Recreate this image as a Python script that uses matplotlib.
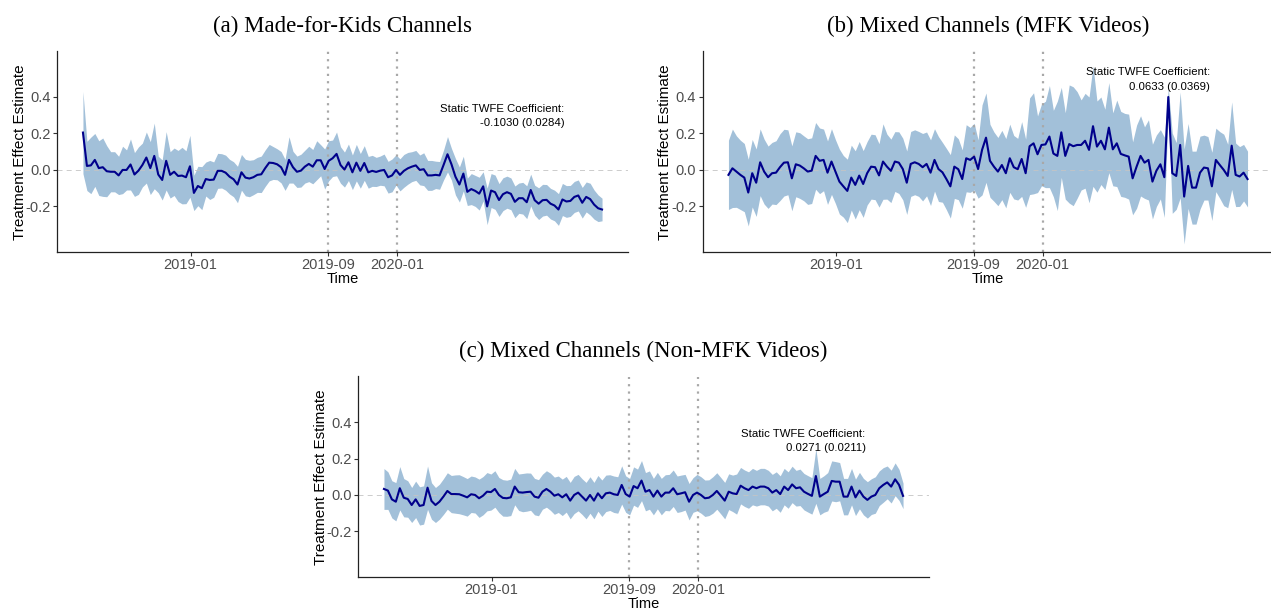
import numpy as np
import pandas as pd
import matplotlib
matplotlib.use('Agg')
import matplotlib.pyplot as plt

# weekly event-study estimates
weeks = pd.date_range('2018-06-25', periods=132, freq='7D')

est_a = [0.205, 0.022, 0.025, 0.055, 0.010, 0.015, -0.007, -0.010, -0.010, -0.030,
         0.000, 0.000, 0.030, -0.025, -0.004, 0.027, 0.068, 0.010, 0.077, -0.025,
         -0.055, 0.050, -0.027, -0.010, -0.033, -0.031, -0.040, 0.020, -0.126, -0.088,
         -0.100, -0.050, -0.055, -0.053, -0.005, -0.005, -0.015, -0.037, -0.051, -0.080,
         -0.013, -0.042, -0.047, -0.040, -0.027, -0.024, 0.010, 0.040, 0.038, 0.031,
         0.015, -0.027, 0.055, 0.015, -0.010, -0.004, 0.018, 0.033, 0.018, 0.053,
         0.053, 0.005, 0.050, 0.064, 0.088, 0.027, 0.002, 0.042, -0.013, 0.040,
         -0.005, 0.038, -0.013, -0.005, -0.011, -0.004, 0.000, -0.040, -0.030, 0.000,
         -0.027, -0.005, 0.009, 0.018, 0.025, 0.000, 0.004, -0.030, -0.030, -0.027,
         -0.030, 0.027, 0.086, 0.031, -0.037, -0.080, -0.020, -0.120, -0.105, -0.115,
         -0.130, -0.090, -0.200, -0.113, -0.122, -0.165, -0.133, -0.122, -0.131, -0.175,
         -0.155, -0.155, -0.177, -0.110, -0.166, -0.185, -0.166, -0.164, -0.185, -0.195,
         -0.217, -0.162, -0.173, -0.170, -0.148, -0.140, -0.180, -0.148, -0.160, -0.190,
         -0.210, -0.217]
hw_a = [0.225, 0.135, 0.155, 0.145, 0.150, 0.160, 0.140, 0.110, 0.110, 0.105,
        0.130, 0.110, 0.140, 0.120, 0.130, 0.120, 0.140, 0.145, 0.180, 0.100,
        0.110, 0.160, 0.127, 0.130, 0.140, 0.155, 0.145, 0.170, 0.097, 0.108,
        0.118, 0.093, 0.107, 0.097, 0.096, 0.094, 0.096, 0.095, 0.096, 0.100,
        0.098, 0.100, 0.100, 0.096, 0.096, 0.100, 0.100, 0.100, 0.090, 0.085,
        0.086, 0.085, 0.127, 0.087, 0.086, 0.090, 0.090, 0.097, 0.094, 0.107,
        0.085, 0.110, 0.110, 0.100, 0.120, 0.100, 0.096, 0.100, 0.095, 0.100,
        0.095, 0.095, 0.087, 0.085, 0.080, 0.080, 0.087, 0.087, 0.090, 0.083,
        0.088, 0.090, 0.087, 0.082, 0.082, 0.082, 0.090, 0.082, 0.082, 0.075,
        0.076, 0.082, 0.097, 0.087, 0.100, 0.096, 0.095, 0.075, 0.085, 0.085,
        0.090, 0.080, 0.100, 0.093, 0.094, 0.090, 0.090, 0.088, 0.087, 0.087,
        0.083, 0.087, 0.090, 0.087, 0.082, 0.087, 0.087, 0.084, 0.084, 0.084,
        0.087, 0.088, 0.087, 0.085, 0.085, 0.085, 0.084, 0.082, 0.087, 0.080,
        0.073, 0.062]

est_b = [-0.027, 0.009, -0.009, -0.027, -0.042, -0.124, -0.018, -0.070, 0.042, -0.009,
         -0.040, -0.018, -0.015, 0.015, 0.040, 0.042, -0.046, 0.031, 0.024, 0.009,
         -0.009, -0.004, 0.077, 0.050, 0.055, -0.015, 0.046, -0.009, -0.064, -0.090,
         -0.115, -0.042, -0.082, -0.031, -0.077, -0.018, 0.018, 0.015, -0.030, 0.046,
         0.018, -0.005, 0.046, 0.040, 0.005, -0.070, 0.033, 0.042, 0.033, 0.015,
         0.033, -0.015, 0.055, 0.005, -0.013, -0.050, -0.090, 0.018, 0.004, -0.050,
         0.064, 0.055, 0.073, 0.005, 0.110, 0.177, 0.050, 0.018, -0.009, 0.027,
         -0.018, 0.064, 0.015, 0.004, 0.060, -0.018, 0.130, 0.146, 0.086, 0.137,
         0.140, 0.183, 0.090, 0.077, 0.206, 0.077, 0.142, 0.130, 0.137, 0.137,
         0.160, 0.110, 0.240, 0.128, 0.160, 0.113, 0.232, 0.113, 0.146, 0.088,
         0.080, 0.073, -0.046, 0.018, 0.077, 0.040, 0.055, -0.064, -0.004, 0.031,
         -0.040, 0.400, -0.018, -0.033, 0.137, -0.146, 0.022, -0.097, -0.097, -0.015,
         0.013, 0.009, -0.090, 0.055, 0.027, 0.000, -0.033, 0.133, -0.027, -0.036,
         -0.015, -0.050]
hw_b = [0.190, 0.215, 0.196, 0.190, 0.187, 0.183, 0.185, 0.185, 0.183, 0.178,
        0.171, 0.169, 0.175, 0.183, 0.183, 0.178, 0.178, 0.178, 0.180, 0.178,
        0.180, 0.180, 0.183, 0.180, 0.169, 0.174, 0.180, 0.175, 0.178, 0.169,
        0.174, 0.178, 0.187, 0.187, 0.183, 0.174, 0.178, 0.178, 0.174, 0.207,
        0.178, 0.174, 0.164, 0.169, 0.169, 0.174, 0.178, 0.178, 0.178, 0.185,
        0.175, 0.180, 0.171, 0.178, 0.164, 0.168, 0.174, 0.174, 0.167, 0.160,
        0.184, 0.178, 0.183, 0.160, 0.247, 0.245, 0.200, 0.190, 0.187, 0.190,
        0.190, 0.187, 0.174, 0.169, 0.205, 0.187, 0.265, 0.277, 0.210, 0.224,
        0.237, 0.280, 0.237, 0.300, 0.247, 0.237, 0.324, 0.326, 0.292, 0.247,
        0.260, 0.290, 0.330, 0.250, 0.240, 0.220, 0.247, 0.200, 0.237, 0.233,
        0.230, 0.233, 0.200, 0.228, 0.220, 0.196, 0.220, 0.205, 0.196, 0.190,
        0.220, 0.050, 0.220, 0.183, 0.290, 0.260, 0.233, 0.200, 0.200, 0.200,
        0.178, 0.174, 0.187, 0.174, 0.183, 0.196, 0.174, 0.240, 0.174, 0.164,
        0.155, 0.153]

est_c = [0.033, 0.024, -0.024, -0.037, 0.037, -0.015, -0.022, -0.055, -0.024, -0.060,
         -0.055, 0.040, -0.033, -0.055, -0.037, -0.009, 0.022, 0.005, 0.005, 0.004,
         -0.004, -0.013, 0.004, 0.000, -0.018, -0.004, 0.018, 0.016, 0.033, 0.000,
         -0.016, -0.018, -0.013, 0.046, 0.015, 0.013, 0.016, 0.018, -0.009, -0.015,
         0.018, 0.033, 0.018, -0.004, 0.004, -0.013, 0.004, -0.031, 0.000, 0.013,
         -0.009, -0.031, 0.000, -0.031, 0.009, -0.018, 0.009, 0.013, 0.004, 0.000,
         0.055, 0.005, -0.009, 0.049, 0.037, 0.079, 0.018, 0.027, -0.009, 0.024,
         -0.009, 0.013, 0.013, 0.037, 0.004, 0.009, 0.015, -0.037, 0.000, 0.013,
         0.000, -0.018, -0.015, 0.000, 0.022, -0.004, -0.031, 0.018, 0.009, 0.005,
         0.051, 0.037, 0.027, 0.046, 0.037, 0.046, 0.046, 0.037, 0.013, 0.027,
         0.005, 0.046, 0.027, 0.058, 0.037, 0.042, 0.018, 0.006, -0.005, 0.104,
         -0.009, 0.005, 0.018, 0.077, 0.073, 0.073, -0.009, -0.009, 0.046, -0.013,
         0.024, -0.009, -0.027, -0.009, 0.000, 0.037, 0.055, 0.069, 0.046, 0.086,
         0.055, -0.005]
hw_c = [0.112, 0.103, 0.102, 0.105, 0.119, 0.105, 0.100, 0.096, 0.100, 0.105,
        0.105, 0.119, 0.100, 0.096, 0.096, 0.098, 0.100, 0.102, 0.105, 0.107,
        0.105, 0.103, 0.100, 0.099, 0.105, 0.105, 0.105, 0.099, 0.100, 0.096,
        0.100, 0.099, 0.100, 0.100, 0.100, 0.105, 0.105, 0.102, 0.100, 0.099,
        0.096, 0.100, 0.102, 0.102, 0.100, 0.100, 0.098, 0.100, 0.102, 0.100,
        0.098, 0.100, 0.100, 0.100, 0.098, 0.100, 0.100, 0.098, 0.100, 0.100,
        0.105, 0.100, 0.100, 0.105, 0.105, 0.110, 0.105, 0.105, 0.100, 0.100,
        0.100, 0.098, 0.100, 0.100, 0.100, 0.100, 0.098, 0.100, 0.095, 0.100,
        0.100, 0.100, 0.098, 0.100, 0.100, 0.100, 0.100, 0.098, 0.100, 0.110,
        0.100, 0.100, 0.100, 0.100, 0.098, 0.100, 0.100, 0.098, 0.100, 0.100,
        0.100, 0.100, 0.100, 0.100, 0.098, 0.100, 0.100, 0.100, 0.100, 0.150,
        0.100, 0.100, 0.105, 0.110, 0.110, 0.105, 0.100, 0.100, 0.100, 0.100,
        0.100, 0.100, 0.100, 0.098, 0.100, 0.095, 0.095, 0.090, 0.090, 0.090,
        0.085, 0.070]

titles = ['(a) Made-for-Kids Channels', '(b) Mixed Channels (MFK Videos)',
          '(c) Mixed Channels (Non-MFK Videos)']
coef_labels = ['-0.1030 (0.0284)', '0.0633 (0.0369)', '0.0271 (0.0211)']
tick_dates = ['2019-01-01', '2019-09-01', '2020-01-01']
tick_labels = ['2019-01', '2019-09', '2020-01']
policy_dates = ['2019-09-01', '2020-01-01']
y_ticks = [-0.2, 0.0, 0.2, 0.4]

plt.rcParams['font.family'] = ['Liberation Sans', 'DejaVu Sans']

W, H = 1271, 609
fig = plt.figure(figsize=(W / 100, H / 100), dpi=100)


def px_axes(left, top, right, bottom):
    return fig.add_axes([left / W, 1 - bottom / H, (right - left) / W, (bottom - top) / H])


def draw_panel(ax, est, hw, title, coef, text_y):
    est = np.array(est)
    hw = np.array(hw)
    ax.fill_between(weeks, est - hw, est + hw, color='#a2c0d9', lw=0, zorder=1)
    ax.axhline(0, color='#c4c4c4', lw=0.6, ls=(0, (6, 5)), zorder=2)
    for d in policy_dates:
        ax.axvline(pd.Timestamp(d), color='#a8a8a8', lw=1.6, ls=(0, (1, 2.3)), zorder=2)
    ax.plot(weeks, est, color='#00008b', lw=1.5, zorder=3)

    span = weeks[-1] - weeks[0]
    ax.set_xlim(weeks[0] - span * 0.05, weeks[-1] + span * 0.05)
    ax.set_ylim(-0.45, 0.65)
    ax.set_xticks([pd.Timestamp(d) for d in tick_dates])
    ax.set_xticklabels(tick_labels)
    ax.set_yticks(y_ticks)
    ax.set_yticklabels(['%.1f' % v for v in y_ticks])
    ax.tick_params(labelsize=10.5, colors='#333333', labelcolor='#4d4d4d',
                   length=3, width=0.8, pad=1.5)
    for s in ['top', 'right']:
        ax.spines[s].set_visible(False)
    for s in ['left', 'bottom']:
        ax.spines[s].set_linewidth(0.9)
        ax.spines[s].set_color('#222222')
    ax.set_xlabel('Time', fontsize=10.5, labelpad=0)
    ax.set_ylabel('Treatment Effect Estimate', fontsize=11, labelpad=-1)
    ax.set_title(title, fontsize=16.5, family='Liberation Serif', pad=14)

    ax.text(pd.Timestamp('2020-10-23'), text_y, 'Static TWFE Coefficient:\n' + coef,
            ha='right', va='center', fontsize=8.2, linespacing=1.55, zorder=4)


ax_a = px_axes(57, 51.4, 628, 252)
ax_b = px_axes(702.5, 51.4, 1273.5, 252)
ax_c = px_axes(358, 376.5, 929, 577)

draw_panel(ax_a, est_a, hw_a, titles[0], coef_labels[0], 0.295)
draw_panel(ax_b, est_b, hw_b, titles[1], coef_labels[1], 0.495)
draw_panel(ax_c, est_c, hw_c, titles[2], coef_labels[2], 0.295)

fig.savefig('out.png', dpi=100)
